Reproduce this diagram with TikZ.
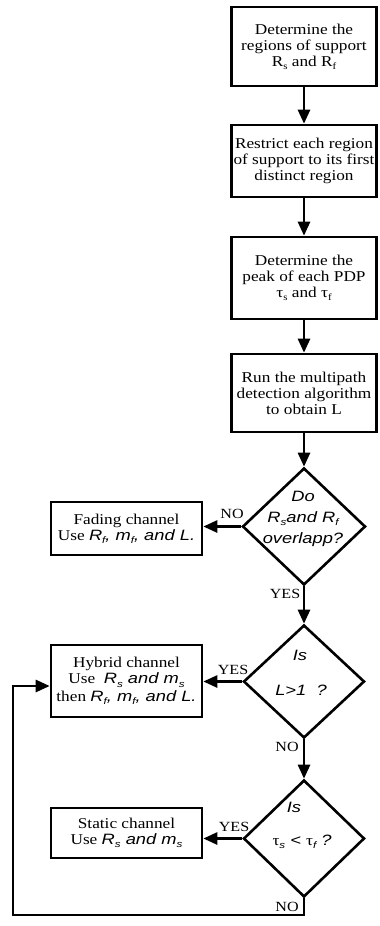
\documentclass[tikz,border=0pt]{standalone}
\usepackage{fontspec}
\setmainfont{Liberation Serif}[FakeStretch=1.15]
\newfontfamily\hvfont{Liberation Sans}[FakeStretch=1.22]
\usetikzlibrary{arrows.meta,shapes.geometric}
% subscript and sans-italic helpers
\newcommand\sbs[1]{\raisebox{-0.22em}{\fontsize{9.5}{9.5}\selectfont #1}}
\newcommand\hvi[1]{{\hvfont\itshape #1}}
\begin{document}
\begin{tikzpicture}[x=1pt,y=-1pt,
  every node/.style={font=\fontsize{15}{16}\selectfont},
  box/.style={draw, line width=2.6pt, align=center, inner sep=0pt},
  dia/.style={draw, diamond, line width=2.6pt, inner sep=0pt},
  flow/.style={line width=2.6pt, -{Triangle[length=14pt,width=12pt]}},
  qtext/.style={align=center, inner sep=0pt, font=\hvfont\itshape\fontsize{15}{21}\selectfont},
  lbl/.style={inner sep=0pt, font=\fontsize{14}{14}\selectfont}]
\useasboundingbox (0,0) rectangle (380,926);

% main column of process boxes
\node[box, minimum width=145pt, minimum height=79pt] (b1) at (304,46.5)
  {Determine the\\regions of support\\R\sbs{s} and R\sbs{f}};
\node[box, minimum width=145pt, minimum height=72pt] (b2) at (304,161)
  {Restrict each region\\of support to its first\\distinct region};
\node[box, minimum width=145pt, minimum height=82pt] (b3) at (304,278)
  {Determine the\\peak of each PDP\\τ\sbs{s} and τ\sbs{f}};
\node[box, minimum width=145pt, minimum height=78pt] (b4) at (304,393)
  {Run the multipath\\detection algorithm\\to obtain L};

% decisions
\node[dia, minimum width=123pt, minimum height=117pt] (d1) at (304,526.5) {};
\node[dia, minimum width=121pt, minimum height=113pt] (d2) at (304,681.5) {};
\node[dia, minimum width=121pt, minimum height=117pt] (d3) at (304,838.5) {};

\node[qtext] (q1) at (303,519) {Do\\R\sbs{s}and R\sbs{f}\\overlapp?};
\node[qtext] (q2a) at (300,655) {Is};
\node[qtext] (q2b) at (301,690) {L>1\ \ ?};
\node[qtext] (q3a) at (294,807) {Is};
\node[qtext] (q3b) at (302,842) {{\upshape\rmfamily τ}\sbs{s} < {\upshape\rmfamily τ}\sbs{f} ?};

% outcome boxes
\node[box, minimum width=151pt, minimum height=53pt] (fade) at (126.5,528.5)
  {Fading channel\\Use \hvi{R\sbs{f}, m\sbs{f}, and L.}};
\node[box, minimum width=151pt, minimum height=72pt] (hyb) at (126.5,681)
  {Hybrid channel\\Use \ \hvi{R\sbs{s} and m\sbs{s}}\\[1.5pt]then \hvi{R\sbs{f}, m\sbs{f}, and L.}};
\node[box, minimum width=151pt, minimum height=50pt] (stat) at (126.5,833)
  {Static channel\\Use \hvi{R\sbs{s} and m\sbs{s}}};

% connectors
\draw[flow] (b1) -- (b2);
\draw[flow] (b2) -- (b3);
\draw[flow] (b3) -- (b4);
\draw[flow] (b4) -- (d1);
\draw[flow] (d1) -- (d2);
\draw[flow] (d2) -- (d3);
\draw[flow] (d1.west) -- (d1.west -| fade.east);
\draw[flow] (d2.west) -- (d2.west -| hyb.east);
\draw[flow] (d3.west) -- (d3.west -| stat.east);

\coordinate (c1) at (304,915);
\coordinate (c2) at (13,915);
\coordinate (c3) at (13,686);
\draw[flow] (d3.south) -- (c1) -- (c2) -- (c3) -- (c3 -| hyb.west);

% branch labels
\node[lbl] (n1) at (232,514) {NO};
\node[lbl] (y1) at (285,594) {YES};
\node[lbl] (y2) at (233,670) {YES};
\node[lbl] (n2) at (287,747) {NO};
\node[lbl] (y3) at (234,827) {YES};
\node[lbl] (n3) at (287,907) {NO};
\end{tikzpicture}
\end{document}
